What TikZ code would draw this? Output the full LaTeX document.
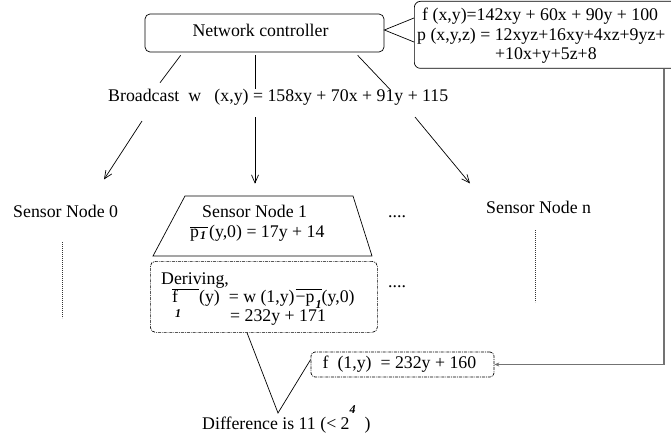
\documentclass[tikz,border=0pt]{standalone}
\usepackage{fontspec}
\setmainfont{Liberation Serif}
\usetikzlibrary{calc,arrows.meta}
\newcommand{\myfs}{\fontsize{17.8}{19.3}\selectfont}
\newcommand{\bsubx}[1]{{\fontsize{12}{12}\selectfont\bfseries\itshape #1}}
\begin{document}
\begin{tikzpicture}[x=1pt,y=-1pt,
  lbl/.style={font=\myfs, inner sep=0pt, anchor=base west},
  rbox/.style={draw, line width=0.7pt, rounded corners=5pt, inner sep=0pt},
  ddbox/.style={draw, line width=0.7pt, rounded corners=5pt, dash pattern=on 3pt off 1pt on 0.8pt off 1pt, inner sep=0pt},
  link/.style={line width=0.7pt},
  arr/.style={line width=0.7pt, -{Straight Barb[length=8pt,width=7pt]}},
  feed/.style={draw=black!55, line width=1.1pt, -{Stealth[length=5pt,width=4pt]}},
  dotln/.style={line width=0.8pt, draw=black!80, dash pattern=on 0.8pt off 1.2pt}]
\useasboundingbox (0,0) rectangle (671,446);

% network controller
\node[rbox, minimum width=239pt, minimum height=38pt, font=\myfs, text height=12pt, text depth=4pt] (nc) at (264.5,33) {Network controller\hspace*{8pt}};

% equations box
\node[rbox, rounded corners=6pt, anchor=north west, minimum width=300pt, minimum height=67pt] (eq) at (414,1) {};
\node[lbl] (eq1) at (422,21) {f (x,y)=142xy + 60x + 90y + 100};
\node[lbl] (eq2) at (417,41) {p (x,y,z) = 12xyz+16xy+4xz+9yz+};
\node[lbl] (eq3) at (495,60) {+10x+y+5z+8};
\draw[link] ($(eq.north west)+(0,17)$) -- ($(nc.east)+(0,-3)$) -- ($(eq.north west)+(0,41)$);

% broadcast
\node[lbl] (bc) at (108,102) {Broadcast\ \ w\ \ \ (x,y) = 158xy + 70x + 91y + 115};
\draw[link] ($(nc.south west)+(36,3)$) -- ($(bc.north west)+(52,-6.7)$);
\draw[link] ($(nc.south)+(-9.5,3)$) -- ($(bc.north west)+(147,0)$);
\draw[link] ($(nc.south west)+(213,3)$) -- ($(bc.north west)+(282,0)$);

% sensor nodes
\node[lbl] (sn0) at (13,218) {Sensor Node 0};
\node[lbl] (snn) at (486,214) {Sensor Node n};
\node[lbl] (dots1) at (388,218) {....};
\node[lbl] (dots2) at (388,287) {....};
\draw[dotln] ($(sn0.south west)+(49,24)$) -- ++(0,76);
\draw[dotln] ($(snn.south west)+(49,16)$) -- ++(0,72);

% sensor node 1 trapezoid
\coordinate (tl) at (185,196);
\coordinate (tr) at (353,196);
\coordinate (br) at (372,256);
\coordinate (bl) at (153,256);
\draw[link] (tl) -- (tr) -- (br) -- (bl) -- cycle;
\node[lbl] (sn1a) at (202,217.3) {Sensor Node 1};
\node[lbl] (sn1b) at (190,237) {$\overline{\hbox{p\kern1pt\raisebox{-2pt}{\bsubx{1}}\kern2pt}}$\kern1pt(y,0) = 17y + 14};

% arrows from broadcast
\draw[arr] ($(bc.south west)+(34,15)$) -- ($(sn0.north west)+(91,-26)$);
\draw[arr] ($(bc.south west)+(147,11)$) -- ($(sn1a.north west)+(53,-21)$);
\draw[arr] ($(bc.south west)+(307,11)$) -- ($(snn.north west)+(-16,-18)$);

% deriving box
\node[ddbox, anchor=north west, minimum width=227pt, minimum height=71pt] (der) at (150,261) {};
\node[lbl] (der1) at (161,284.3) {Deriving,};
\node[lbl] (der2) at (172,302.7) {\rlap{\smash{\raisebox{-15pt}{\kern3pt\bsubx{1}}}}$\overline{\hbox{f\kern21pt}}$(y)\ \ = w (1,y)\kern1pt\rlap{\smash{\raisebox{-6pt}{\kern20pt\bsubx{1}}}}$\overline{\hbox{\vphantom{f}−p\kern7pt}}$(y,0)};
\node[lbl] (der3) at (230,321.7) {= 232y + 171};

% f(1,y) box
\node[ddbox, rounded corners=4pt, minimum width=183pt, minimum height=25pt, font=\myfs, text height=12pt, text depth=4pt] (fb) at (402.5,364.5) {f\ \ (1,y)\ \ = 232y + 160\hspace*{6pt}};
\draw[feed] ($(eq.south west)+(250,0)$) |- (fb.east);

% difference
\coordinate (apex) at (278,413);
\draw[link] ($(der.south west)+(97,0)$) -- (apex) -- ($(fb.west)+(0,-5)$);
\node[lbl] (diff) at (202,429) {Difference is 11 (< 2\raisebox{16pt}{\bsubx{4}}\ \ )};
\end{tikzpicture}
\end{document}
